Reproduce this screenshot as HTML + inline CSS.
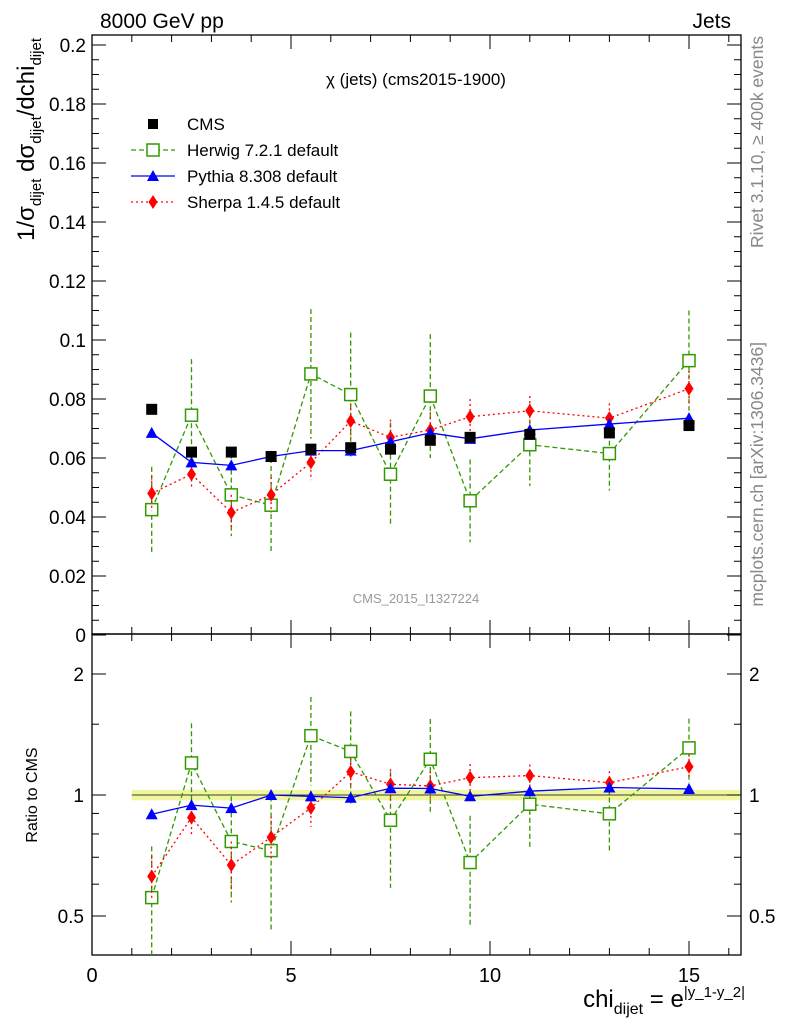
<!DOCTYPE html>
<html><head><meta charset="utf-8"><style>
body{margin:0;background:#fff;}
svg text{font-family:"Liberation Sans",sans-serif;}
</style></head><body>
<svg id="c" width="786" height="1024" xmlns="http://www.w3.org/2000/svg"></svg>
<script>
const bins=[1.5,2.5,3.5,4.5,5.5,6.5,7.5,8.5,9.5,11,13,15];
const cms=[0.0765,0.062,0.062,0.0605,0.063,0.0635,0.063,0.066,0.067,0.068,0.0685,0.071];
const herwig=[0.0425,0.0745,0.0475,0.044,0.0885,0.0815,0.0545,0.081,0.0455,0.0645,0.0615,0.093];
const herwigErr=[0.0145,0.019,0.014,0.016,0.022,0.021,0.0175,0.021,0.014,0.014,0.0125,0.017];
const pythia=[0.0685,0.0585,0.0575,0.0605,0.0625,0.0625,0.0655,0.0685,0.0665,0.0695,0.0715,0.0735];
const sherpa=[0.048,0.0545,0.0415,0.0475,0.0585,0.0725,0.067,0.0695,0.074,0.076,0.0735,0.0835];
const sherpaErr=[0.006,0.005,0.006,0.006,0.006,0.006,0.006,0.006,0.006,0.005,0.005,0.006];
const yTicks=[0,0.02,0.04,0.06,0.08,0.1,0.12,0.14,0.16,0.18,0.2];
const yTickLabels=["0","0.02","0.04","0.06","0.08","0.1","0.12","0.14","0.16","0.18","0.2"];
const xTicks=[0,5,10,15];
const rTicks=[0.5,1,2];

const L=92,R=741,T=35,MB=634,RB=955;
const X=v=>L+v*39.8;
const Y=v=>635-v*2950;
const RY=v=>795-Math.log2(v)*121;
const svg=document.getElementById('c');
const NS='http://www.w3.org/2000/svg';
function el(tag,attrs,name,parent){const e=document.createElementNS(NS,tag);for(const k in attrs)e.setAttribute(k,attrs[k]);


(parent||svg).appendChild(e);return e;}
function txt(x,y,s,name,size,anchor,fill,extra){const t=el('text',Object.assign({x:x,y:y,'font-size':size||18,'text-anchor':anchor||'start',fill:fill||'#000'},extra||{}),name);t.innerHTML=s;return t;}

el('rect',{x:X(1),y:RY(1.03),width:X(16.3)-X(1)-1,height:RY(0.97)-RY(1.03),fill:'#f0f5a0'},'ratio-band');
el('line',{x1:X(1),x2:R,y1:RY(1),y2:RY(1),stroke:'#000','stroke-width':0.8},'ratio-unity-line');
el('rect',{x:L,y:T,width:R-L,height:MB-T,fill:'none',stroke:'#000','stroke-width':1.3},'main-frame');
el('rect',{x:L,y:MB,width:R-L,height:RB-MB,fill:'none',stroke:'#000','stroke-width':1.3},'ratio-frame');
for(let i=0;i<yTicks.length;i++){const y=Y(yTicks[i]);
el('line',{x1:L,x2:L+14,y1:y,y2:y,stroke:'#000'},'y-tick');el('line',{x1:R,x2:R-14,y1:y,y2:y,stroke:'#000'},'y-tick-right');
if(i<yTicks.length-1)for(let j=1;j<4;j++){const ym=Y(yTicks[i]+j*0.005);el('line',{x1:L,x2:L+7,y1:ym,y2:ym,stroke:'#000'},'y-minor-tick');el('line',{x1:R,x2:R-7,y1:ym,y2:ym,stroke:'#000'},'y-minor-tick-right');}
txt(L-6,y+7,yTickLabels[i],'y-tick-label',19,'end');}
for(let v=0;v<=16;v++){const x=X(v);const big=v%5==0;const h=big?14:7;
el('line',{x1:x,x2:x,y1:MB,y2:MB-h,stroke:'#000'},'x-tick');el('line',{x1:x,x2:x,y1:T,y2:T+h,stroke:'#000'},'x-tick-top');
el('line',{x1:x,x2:x,y1:RB,y2:RB-h,stroke:'#000'},'ratio-x-tick');el('line',{x1:x,x2:x,y1:MB,y2:MB+h,stroke:'#000'},'ratio-x-tick-top');}
for(const v of xTicks)txt(X(v),982,String(v),'x-tick-label',20,'middle');
for(const v of rTicks){const y=RY(v);el('line',{x1:L,x2:L+14,y1:y,y2:y,stroke:'#000'},'ratio-y-tick');el('line',{x1:R,x2:R-14,y1:y,y2:y,stroke:'#000'},'ratio-y-tick-right');
txt(L-8,y+7,String(v),'ratio-y-tick-label',19,'end');txt(R+8,y+7,String(v),'ratio-y-tick-label-right',19,'start');}
for(const v of [0.6,0.7,0.8,0.9,1.5]){const y=RY(v);el('line',{x1:L,x2:L+7,y1:y,y2:y,stroke:'#000'},'ratio-minor-tick');el('line',{x1:R,x2:R-7,y1:y,y2:y,stroke:'#000'},'ratio-minor-tick-right');}

function drawSeries(vals,errs,color,dash,marker,name,yf){
 const pts=bins.map((b,i)=>X(b)+','+yf(vals[i])).join(' ');
 el('polyline',{points:pts,fill:'none',stroke:color,'stroke-width':1.3,'stroke-dasharray':dash},name+'-line');
 bins.forEach((b,i)=>{const x=X(b),y=yf(vals[i]);
  if(errs){el('line',{x1:x,x2:x,y1:yf(vals[i]+errs[i]),y2:yf(Math.max(vals[i]-errs[i],0.001)),stroke:color,'stroke-width':1.3,'stroke-dasharray':dash},name+'-error');}
  if(marker=='sq')el('rect',{x:x-6,y:y-6,width:12,height:12,fill:'#fff',stroke:color,'stroke-width':1.5},name+'-point');
  if(marker=='tri')el('polygon',{points:`${x},${y-6} ${x-6},${y+5} ${x+6},${y+5}`,fill:color},name+'-point');
  if(marker=='dia')el('polygon',{points:`${x},${y-7} ${x-4.5},${y} ${x},${y+7} ${x+4.5},${y}`,fill:color},name+'-point');
 });}
drawSeries(herwig,herwigErr,'#339900','5,3','sq','herwig',Y);
drawSeries(sherpa,sherpaErr,'#ff0000','2,3','dia','sherpa',Y);
drawSeries(pythia,null,'#0000ff','none','tri','pythia',Y);
bins.forEach((b,i)=>el('rect',{x:X(b)-5.5,y:Y(cms[i])-5.5,width:11,height:11,fill:'#000'},'cms-point'));
const rh=herwig.map((v,i)=>v/cms[i]),rhe=herwigErr.map((v,i)=>v/cms[i]);
const rs=sherpa.map((v,i)=>v/cms[i]),rse=sherpaErr.map((v,i)=>v/cms[i]);
const rp=pythia.map((v,i)=>v/cms[i]);
const RYc=v=>Math.min(RB,Math.max(MB,RY(v)));
drawSeries(rh,rhe,'#339900','5,3','sq','ratio-herwig',RYc);
drawSeries(rs,rse,'#ff0000','2,3','dia','ratio-sherpa',RYc);
drawSeries(rp,null,'#0000ff','none','tri','ratio-pythia',RYc);
txt(100,28,'8000 GeV pp','header-energy',21);
txt(731,28,'Jets','header-process',21,'end');
txt(416,85,'χ (jets) (cms2015-1900)','plot-title',17,'middle');
txt(416,603,'CMS_2015_I1327224','analysis-label',13,'middle','#999');
const lg=[['CMS','cms'],['Herwig 7.2.1 default','herwig'],['Pythia 8.308 default','pythia'],['Sherpa 1.4.5 default','sherpa']];
lg.forEach((l,i)=>{const y=124+i*26,x=153;
 if(l[1]=='cms')el('rect',{x:x-5,y:y-5,width:10,height:10,fill:'#000'},'legend-marker-cms');
 if(l[1]=='herwig'){el('line',{x1:x-22,x2:x+22,y1:y,y2:y,stroke:'#339900','stroke-dasharray':'5,3','stroke-width':1.3},'legend-line-herwig');el('rect',{x:x-6,y:y-6,width:12,height:12,fill:'#fff',stroke:'#339900','stroke-width':1.5},'legend-marker-herwig');}
 if(l[1]=='pythia'){el('line',{x1:x-22,x2:x+22,y1:y,y2:y,stroke:'#0000ff','stroke-width':1.3},'legend-line-pythia');el('polygon',{points:`${x},${y-6} ${x-6},${y+5} ${x+6},${y+5}`,fill:'#0000ff'},'legend-marker-pythia');}
 if(l[1]=='sherpa'){el('line',{x1:x-22,x2:x+22,y1:y,y2:y,stroke:'#ff0000','stroke-dasharray':'2,3','stroke-width':1.3},'legend-line-sherpa');el('polygon',{points:`${x},${y-7} ${x-4.5},${y} ${x},${y+7} ${x+4.5},${y}`,fill:'#ff0000'},'legend-marker-sherpa');}
 txt(187,y+6,l[0],'legend-entry-'+l[1],17);});
txt(0,0,'1/σ<tspan font-size="15" dy="7">dijet</tspan><tspan dy="-7"> dσ</tspan><tspan font-size="15" dy="7">dijet</tspan><tspan dy="-7">/dchi</tspan><tspan font-size="15" dy="7">dijet</tspan>','y-axis-title',24,'end',null,{transform:'translate(34,38) rotate(-90)'});
txt(0,0,'Ratio to CMS','ratio-y-axis-title',16,'middle',null,{transform:'translate(37,795) rotate(-90)'});
txt(745,1007,'chi<tspan font-size="16" dy="7">dijet</tspan><tspan dy="-7"> = e</tspan><tspan font-size="15" dy="-10">|y_1-y_2|</tspan>','x-axis-title',24,'end');
txt(0,0,'Rivet 3.1.10, ≥ 400k events','rivet-label',17.5,'end',null,{transform:'translate(763,36) rotate(-90)',fill:'#888'});
txt(0,0,'mcplots.cern.ch [arXiv:1306.3436]','mcplots-label',17.5,'end',null,{transform:'translate(763,342) rotate(-90)',fill:'#888'});
</script>
</body></html>
